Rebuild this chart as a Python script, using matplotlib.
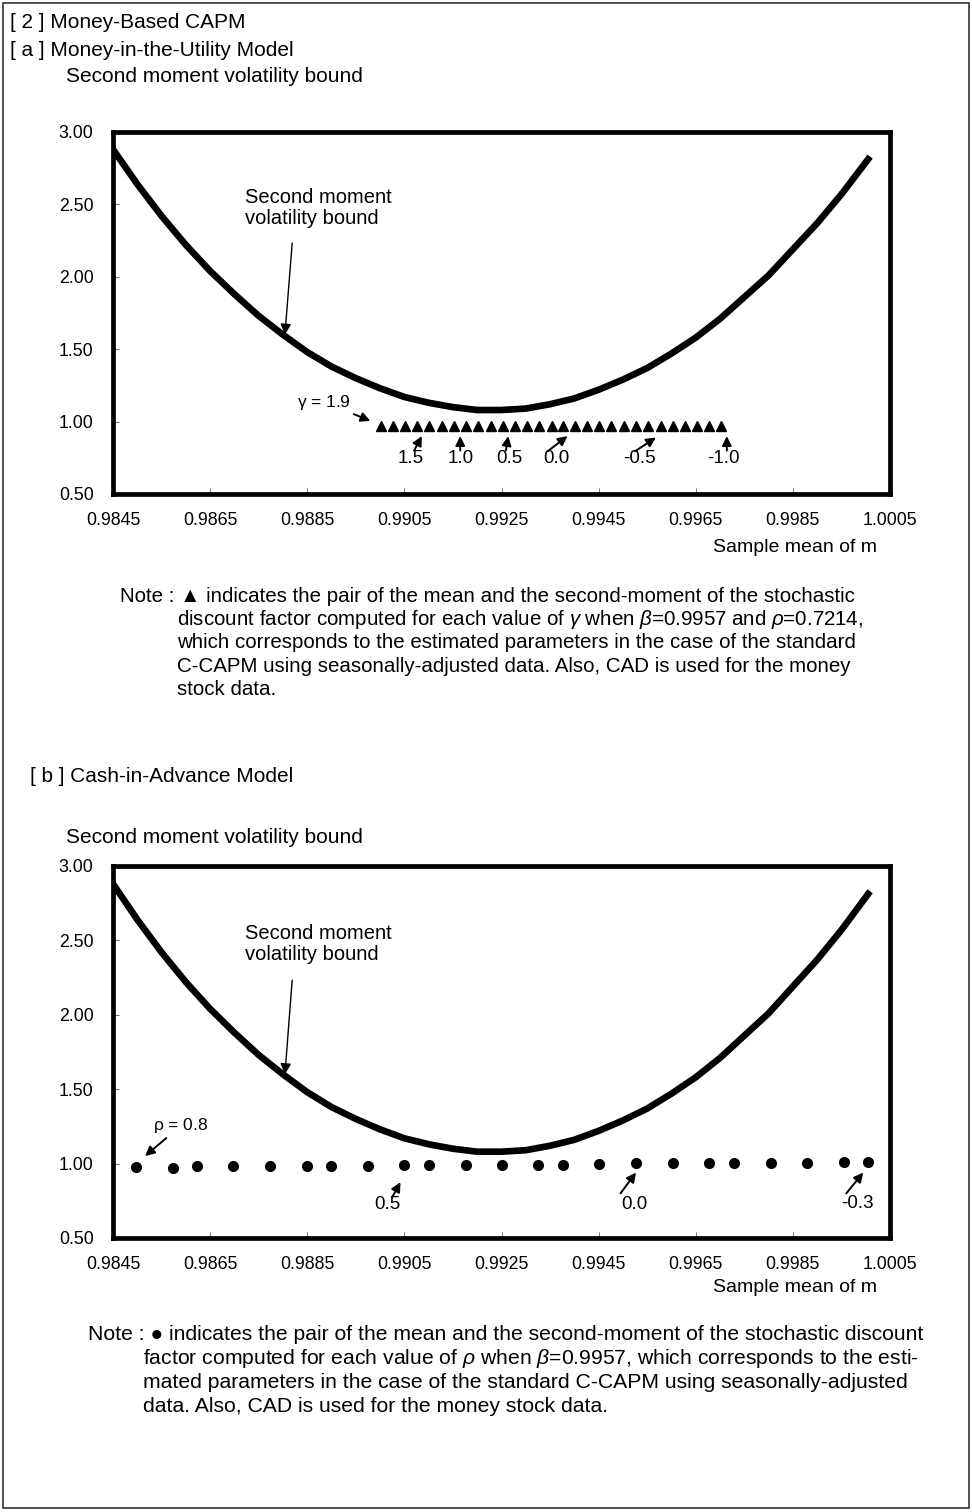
import numpy as np
import matplotlib.pyplot as plt
from matplotlib.patches import Rectangle

plt.rcParams['font.family'] = ['Liberation Sans', 'DejaVu Sans']
plt.rcParams['mathtext.fontset'] = 'custom'
plt.rcParams['mathtext.rm'] = 'Liberation Sans'
plt.rcParams['mathtext.it'] = 'Liberation Sans:italic'

# volatility bound (same in both panels)
bound_mean = [0.98450, 0.98500, 0.98550, 0.98600, 0.98650, 0.98700, 0.98750, 0.98800,
              0.98850, 0.98900, 0.98950, 0.99000, 0.99050, 0.99100, 0.99150, 0.99200,
              0.99250, 0.99300, 0.99350, 0.99400, 0.99450, 0.99500, 0.99550, 0.99600,
              0.99650, 0.99700, 0.99750, 0.99800, 0.99850, 0.99900, 0.99950, 1.00000, 1.00009]
bound_m2 = [2.88, 2.64, 2.42, 2.22, 2.04, 1.88, 1.73, 1.60,
            1.48, 1.38, 1.30, 1.23, 1.17, 1.13, 1.10, 1.08,
            1.08, 1.09, 1.12, 1.16, 1.22, 1.29, 1.37, 1.47,
            1.58, 1.71, 1.86, 2.01, 2.19, 2.37, 2.57, 2.79, 2.83]

# [a] money-in-utility model, gamma = 1.9 ... -1.0
mu_mean = [0.99001, 0.99026, 0.99051, 0.99077, 0.99101, 0.99127, 0.99152, 0.99177,
           0.99202, 0.99228, 0.99253, 0.99278, 0.99303, 0.99328, 0.99353, 0.99376,
           0.99401, 0.99427, 0.99451, 0.99476, 0.99502, 0.99527, 0.99552, 0.99578,
           0.99603, 0.99628, 0.99653, 0.99678, 0.99703]
mu_m2 = [0.97] * 29
gamma_labels = ['1.5', '1.0', '0.5', '0.0', '-0.5', '-1.0']
gamma_text_x = [0.99063, 0.99165, 0.99267, 0.99364, 0.99535, 0.99706]
gamma_tail = [(0.99070, 0.800), (0.99165, 0.800), (0.99259, 0.800), (0.99345, 0.795), (0.99525, 0.795), (0.99714, 0.800)]
gamma_tip = [(0.99086, 0.900), (0.99165, 0.900), (0.99264, 0.900), (0.99386, 0.900), (0.99568, 0.890), (0.99714, 0.900)]

# [b] cash-in-advance model, rho = 0.8 ... -0.3
cia_mean = [0.98497, 0.98573, 0.98622, 0.98698, 0.98773, 0.98849, 0.98899, 0.98975,
            0.99049, 0.99100, 0.99176, 0.99250, 0.99325, 0.99376, 0.99451, 0.99527,
            0.99603, 0.99678, 0.99729, 0.99805, 0.99880, 0.99956, 1.00005]
cia_m2 = [0.975, 0.971, 0.982, 0.985, 0.985, 0.985, 0.985, 0.985, 0.993, 0.993, 0.993, 0.993,
          0.993, 0.993, 0.998, 1.002, 1.002, 1.002, 1.002, 1.002, 1.007, 1.011, 1.011]
rho_labels = ['0.5', '0.0', '-0.3']
rho_text = [(0.99016, 0.722), (0.99523, 0.722), (0.99982, 0.730)]
rho_tail = [(0.99025, 0.775), (0.99495, 0.800), (0.99960, 0.800)]
rho_tip = [(0.99042, 0.875), (0.99527, 0.940), (0.99995, 0.940)]

xticks = [0.9845, 0.9865, 0.9885, 0.9905, 0.9925, 0.9945, 0.9965, 0.9985, 1.0005]
yticks = [0.5, 1.0, 1.5, 2.0, 2.5, 3.0]

W, H = 972, 1512
fig = plt.figure(figsize=(W / 100, H / 100), dpi=100)


def fx(x):
    return x / W


def fy(y):
    return 1 - y / H


fig.patches.append(Rectangle((fx(3), fy(1508)), fx(966), 1505 / H, transform=fig.transFigure,
                             fill=False, lw=1.2, ec='#333333'))

arrow = dict(arrowstyle='-|>', color='k', lw=1.4, mutation_scale=14, shrinkA=0, shrinkB=0)
thin_arrow = dict(arrowstyle='-|>', color='k', lw=1.0, mutation_scale=16, shrinkA=0, shrinkB=0)


def setup(ax):
    ax.set_xlim(0.9845, 1.0005)
    ax.set_ylim(0.5, 3.0)
    ax.set_xticks(xticks)
    ax.set_xticklabels([f'{t:.4f}' for t in xticks], fontsize=12.8)
    ax.set_yticks(yticks)
    ax.set_yticklabels([f'{t:.2f}' for t in yticks], fontsize=12.8)
    ax.tick_params(axis='both', direction='in', length=4, width=0.8, color='#777777')
    ax.tick_params(axis='x', pad=13)
    ax.tick_params(axis='y', pad=14)
    for s in ax.spines.values():
        s.set_linewidth(3.4)
    ax.plot(bound_mean, bound_m2, color='k', lw=4.8, solid_capstyle='butt')
    ax.text(0.98722, 2.475, 'Second moment\nvolatility bound', fontsize=14.5, ha='left', va='center',
            linespacing=1.15)
    ax.annotate('', xy=(0.98804, 1.60), xytext=(0.98819, 2.233), arrowprops=thin_arrow)


# ---- panel a
fig.text(fx(10), fy(22), '[ 2 ] Money-Based CAPM', fontsize=15, va='center')
fig.text(fx(10), fy(50), '[ a ] Money-in-the-Utility Model', fontsize=15, va='center')
fig.text(fx(66), fy(77), 'Second moment volatility bound', fontsize=15, va='center')

ax1 = fig.add_axes([fx(113), fy(494), fx(777), 362 / H])
setup(ax1)
ax1.plot(mu_mean, mu_m2, ls='none', marker='^', ms=7.5, color='k', mec='k')
ax1.annotate('$\\mathrm{\\gamma}$ = 1.9', xy=(0.98980, 1.005), xytext=(0.98940, 1.135),
             fontsize=12.5, ha='right', va='center', arrowprops=arrow)
for lab, tx, tail, tip in zip(gamma_labels, gamma_text_x, gamma_tail, gamma_tip):
    ax1.annotate('', xy=tip, xytext=tail, arrowprops=arrow)
    ax1.text(tx, 0.742, lab, fontsize=13.5, ha='center', va='center')
fig.text(fx(877), fy(548), 'Sample mean of m', fontsize=14, ha='right', va='center')

note_a = ['which corresponds to the estimated parameters in the case of the standard',
          'C-CAPM using seasonally-adjusted data. Also, CAD is used for the money',
          'stock data.']
fig.text(fx(120), fy(596), 'Note : \u25B2 indicates the pair of the mean and the second-moment of the stochastic',
         fontsize=14.8, va='center')
fig.text(fx(177), fy(620), 'discount factor computed for each value of $\\gamma$ when $\\beta$=0.9957 and $\\rho$=0.7214,',
         fontsize=14.8, va='center')
for i, line in enumerate(note_a):
    fig.text(fx(177), fy(643 + 23.5 * i), line, fontsize=14.8, va='center')

# ---- panel b
fig.text(fx(30), fy(777), '[ b ] Cash-in-Advance Model', fontsize=15, va='center')
fig.text(fx(66), fy(838), 'Second moment volatility bound', fontsize=15, va='center')

ax2 = fig.add_axes([fx(113), fy(1238), fx(777), 372 / H])
setup(ax2)
ax2.plot(cia_mean, cia_m2, ls='none', marker='o', ms=7, color='k')
ax2.annotate('$\\mathrm{\\rho}$ = 0.8', xy=(0.98516, 1.051), xytext=(0.98533, 1.19),
             fontsize=12.5, ha='left', va='bottom', arrowprops=arrow)
for lab, txt, tail, tip in zip(rho_labels, rho_text, rho_tail, rho_tip):
    ax2.annotate('', xy=tip, xytext=tail, arrowprops=arrow)
    ax2.text(txt[0], txt[1], lab, fontsize=13.5, ha='center', va='center')
fig.text(fx(877), fy(1287), 'Sample mean of m', fontsize=14, ha='right', va='center')

note_b = ['mated parameters in the case of the standard C-CAPM using seasonally-adjusted',
          'data. Also, CAD is used for the money stock data.']
fig.text(fx(88), fy(1335), 'Note : \u25CF indicates the pair of the mean and the second-moment of the stochastic discount',
         fontsize=15.2, va='center')
fig.text(fx(143), fy(1359), 'factor computed for each value of $\\rho$ when $\\beta$=0.9957, which corresponds to the esti-',
         fontsize=15.2, va='center')
for i, line in enumerate(note_b):
    fig.text(fx(143), fy(1383 + 23.5 * i), line, fontsize=15.2, va='center')

fig.savefig('out.png', dpi=100)
